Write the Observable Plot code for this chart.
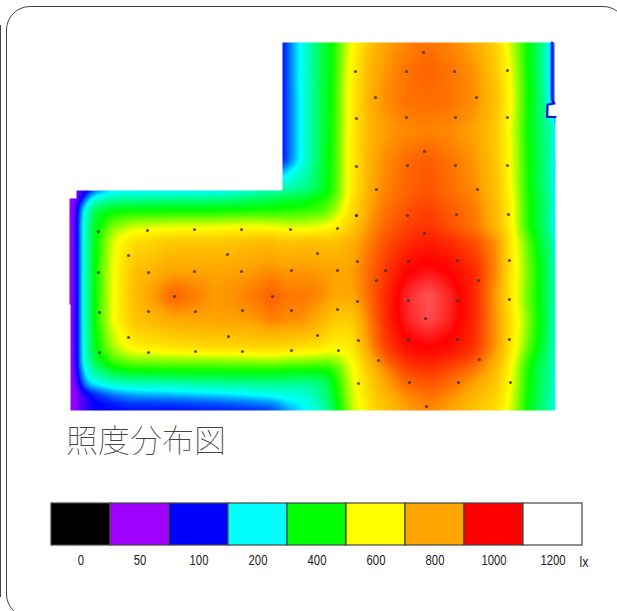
<!DOCTYPE html>
<html lang="ja">
<head>
<meta charset="utf-8">
<script src="https://cdn.jsdelivr.net/npm/d3@7"></script>
<script src="https://cdn.jsdelivr.net/npm/@observablehq/plot@0.6"></script>
<style>
html,body{margin:0;padding:0;background:#fff;}
#page{position:relative;width:617px;height:611px;overflow:hidden;}
#frame{position:absolute;left:6px;top:6px;width:619px;height:610px;border:1.3px solid #444;border-radius:24px;pointer-events:none;}
#sliver{position:absolute;left:0;top:25px;width:1.3px;height:572px;background:#444;}
#title{height:75px;padding-left:66px;line-height:37px;font-family:"Noto Sans CJK JP";font-weight:100;font-size:32px;color:#444;box-sizing:border-box;}
svg{display:block;}
</style>
</head>
<body>
<div id="page"><div id="frame"></div><div id="sliver"></div><div id="chart"></div><div id="title">照度分布図</div><div id="legend"></div></div>
<script>
const levels = [0,50,100,200,400,600,800,1000,1200];
const levelColors = ["#000000","#a000ff","#0000ff","#00ffff","#00ff00","#ffff00","#ffa500","#ff0000","#ffffff"];
const unit = "lx";

const xs = [69,73,77,83,93,113,133,173,217,250,272, 282,290,302,320,332,350,370,385,405,428,450,475,497,510,527,545,553,556];
const ys = [42,70,100,130,160,190,198,210,227,240,270,295,320,347,360,370,383,393,403,410];
const _ = null;
const lux = [
[_,_,_,_,_,_,_,_,_,_,_, 100,150,215,340,400,590,740,800,840,860,840,790,690,560,400,270,110,100],
[_,_,_,_,_,_,_,_,_,_,_, 100,150,215,340,400,620,770,820,860,880,860,820,710,590,400,270,110,100],
[_,_,_,_,_,_,_,_,_,_,_, 100,150,210,340,410,630,780,830,865,870,860,830,730,610,410,280,100,100],
[_,_,_,_,_,_,_,_,_,_,_, 100,150,210,340,410,630,770,810,830,840,830,800,710,590,400,290,290,110],
[_,_,_,_,_,_,_,_,_,_,_, 100,150,210,345,420,630,780,830,870,890,860,815,720,600,410,300,250,110],
[50,50,60,70,130,190,190,190,190,230,260, 270,280,290,350,420,630,790,840,880,900,870,830,730,610,410,300,250,120],
[50,50,70,110,220,270,280,290,300,320,340, 350,360,370,410,450,640,800,850,885,905,880,840,740,620,420,310,270,150],
[50,50,90,200,340,395,400,400,400,410,410, 420,420,430,450,500,670,810,860,900,925,890,850,750,630,420,310,260,130],
[50,50,90,220,370,510,570,590,600,610,600, 585,575,575,590,620,710,830,880,920,940,900,860,750,630,420,310,240,110],
[50,50,90,220,370,580,670,720,720,740,750, 730,730,740,740,730,770,850,900,940,965,945,900,820,650,470,320,300,140],
[50,50,90,220,385,600,740,800,800,810,830, 815,815,820,810,800,800,880,930,995,1015,995,950,830,660,500,340,300,170],
[50,50,90,220,390,600,745,890,810,850,890, 865,855,855,840,800,790,880,950,1030,1070,1030,950,800,650,480,340,300,170],
[50,50,90,220,390,600,730,790,800,810,845, 835,830,830,770,720,700,860,950,1025,1060,1025,950,810,670,510,340,300,170],
[50,50,90,220,370,540,630,665,690,690,700, 690,680,675,660,620,640,830,925,985,1000,985,940,810,660,480,330,290,170],
[50,50,90,220,340,460,500,510,510,520,530, 520,515,510,500,500,590,770,880,950,970,950,900,770,630,430,310,280,170],
[50,50,90,190,280,380,400,410,410,410,410, 405,400,400,390,420,570,740,830,915,935,905,850,740,610,410,300,280,170],
[50,50,65,150,200,240,250,260,280,285,290, 285,282,280,300,370,560,710,800,870,900,870,800,720,600,410,300,280,170],
[50,50,60,85,110,150,170,180,190,205,220, 225,228,230,280,360,550,700,770,840,870,840,770,700,590,400,290,270,170],
[50,50,60,80,95,110,120,120,130,140,150, 170,185,200,260,340,540,680,740,810,850,810,740,680,580,400,290,260,170],
[50,50,60,80,100,100,105,105,110,115,125, 150,170,190,240,320,530,670,730,800,840,800,730,670,570,390,280,250,170]
];
const floorOutline = [[282,42],[554,42],[554,100],[555,104],[548,105],[548,115],[555,116],[555,410],[70,410],[69,198],[76,198],[76,190],[282,190]];
const wallX = [551.5,551.5,553.5,547,546.5,555];
const wallY = [42,98,103,104,116.5,116.5];

const dotX = [98,147,194,241,290,337,356,128,227,317,357,98,148,194,241,291,337,174,272,357,99,148,195,242,291,337,128,228,317,358,99,148,195,242,291,338,358,
423,355,406,454,507,375,476,356,406,455,507,424,356,407,455,507,376,477,356,407,456,508,
424,408,457,509,376,385,478,408,457,509,425,408,457,509,378,479,409,458,510,426];
const dotY = [231,230,229,229,229,228,215,255,254,253,261,272,272,271,271,270,270,296,296,301,312,311,311,310,310,309,337,336,335,340,352,352,351,351,350,350,383,
52,71,71,71,70,97,97,118,117,117,117,151,166,165,165,165,189,189,215,215,214,214,
233,261,260,260,280,270,280,300,300,299,318,339,339,339,360,359,382,382,382,406];

const samples = [];
ys.forEach((y,j)=>xs.forEach((x,i)=>{ if(lux[j][i]!=null) samples.push({x,y,v:lux[j][i]}); }));
const lamps = dotX.map((x,i)=>({x,y:dotY[i]}));
const walls = wallX.map((x,i)=>({x,y:wallY[i]}));

// Bilinear reading of the lux table at every raster pixel; the notch cells take the row's first reading.
const filled = lux.map(r=>{const first=r.find(v=>v!=null); return r.map(v=>v==null?first:v);});
const span = (a,v)=>{
  const i=Math.min(a.length-2,Math.max(0,d3.bisectRight(a,v)-1));
  return [i,Math.min(1,Math.max(0,(v-a[i])/(a[i+1]-a[i])))];
};
const floorInterp = (index,w,h)=>{
  const W = new Float64Array(w*h);
  for(let j=0,k=0;j<h;++j){
    const [r,t]=span(ys,j+.5);
    for(let i=0;i<w;++i,++k){
      const [c,u]=span(xs,i+.5);
      const a=filled[r][c]*(1-u)+filled[r][c+1]*u, b=filled[r+1][c]*(1-u)+filled[r+1][c+1]*u;
      W[k]=a*(1-t)+b*t;
    }
  }
  d3.blur2({data:W,width:w,height:h},3);
  for(let j=0,k=0;j<h;++j) for(let i=0;i<w;++i,++k)
    if(!d3.polygonContains(floorOutline,[i+.5,j+.5])) W[k]=NaN;
  return W;
};

const chart = Plot.plot({
  width:617,height:420,margin:0,
  x:{domain:[0,617],range:[0,617],axis:null},
  y:{domain:[0,420],range:[0,420],axis:null},
  color:{type:"linear",domain:levels,range:levelColors,interpolate:"rgb",clamp:true},
  marks:[
    Plot.raster(samples,{x:"x",y:"y",fill:"v",pixelSize:1,interpolate:floorInterp}),
    Plot.line(walls,{x:"x",y:"y",stroke:"#1010d8",strokeWidth:2.2}),
    Plot.dot(lamps,{x:"x",y:"y",r:1.6,fill:"#3a3030",fillOpacity:.8})
  ]
});
document.getElementById("chart").append(chart);

const legend = Plot.plot({
  width:617,height:116,marginTop:8,marginBottom:66,marginLeft:50,marginRight:35,
  style:{fontFamily:"'Liberation Sans'",fontSize:"15px",color:"#222"},
  x:{type:"band",domain:levels,range:[50,582],padding:0,label:null,tickSize:0,tickPadding:9,tickFormat:d=>String(d)},
  y:{axis:null},
  color:{type:"ordinal",domain:levels,range:levelColors},
  marks:[
    Plot.cell(levels,{x:d=>d,fill:d=>d,stroke:"#444",strokeWidth:1.2}),
    Plot.text([unit],{x:()=>1200,frameAnchor:"middle",dx:31,dy:38,fontSize:15,fill:"#222"})
  ]
});
d3.select(legend).selectAll("text").each(function(){
  const s=this.textContent;
  d3.select(this).attr("textLength",s===unit?9:s.length*6.3).attr("lengthAdjust","spacingAndGlyphs");
});
document.getElementById("legend").append(legend);
</script>
</body>
</html>
